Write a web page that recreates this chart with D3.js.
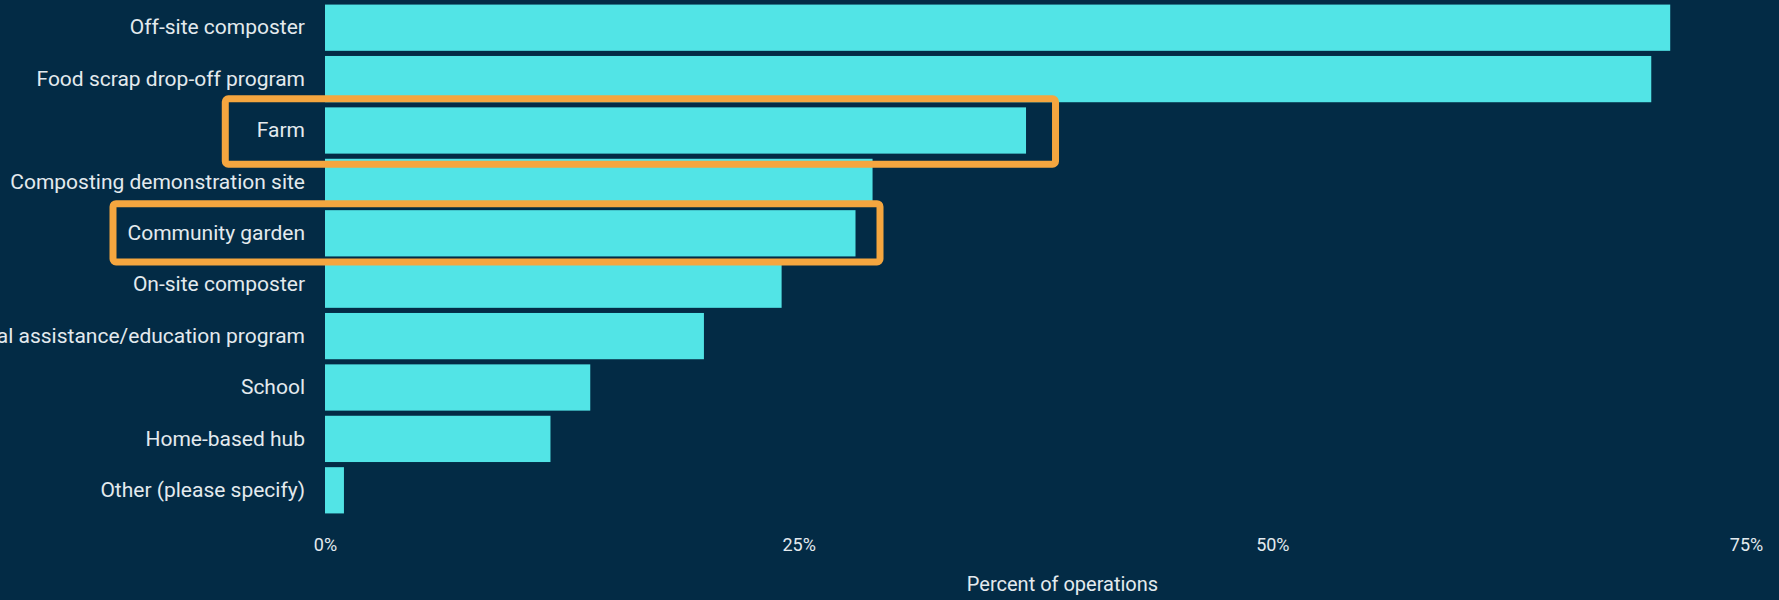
<!DOCTYPE html>
<html>
<head>
<meta charset="utf-8">
<script src="https://cdn.jsdelivr.net/npm/d3@7"></script>
<style>
  html, body { margin: 0; padding: 0; background: #032b45; overflow: hidden; }
  svg { display: block; }
  .tick text { fill: #e3eaee; font-family: Roboto, "DejaVu Sans", sans-serif; }
</style>
</head>
<body>
<div id="chart"></div>
<script>
var svgWidth = 1779;
var svgHeight = 600;

// survey answers, largest first
var categories = [
    "Off-site composter",
    "Food scrap drop-off program",
    "Farm",
    "Composting demonstration site",
    "Community garden",
    "On-site composter",
    "Technical assistance/education program",
    "School",
    "Home-based hub",
    "Other (please specify)"
];
var percents = [71, 70, 37, 28.9, 28, 24.1, 20, 14, 11.9, 1];
var tickValues = [0, 25, 50, 75];
var highlighted = ["Farm", "Community garden"];

var margin = { top: 2, right: 33, bottom: 84, left: 325 };
var plotRight = 1800; // the plot runs on past the right edge

var data = categories.map((c, i) => ({ name: c, value: percents[i] }));

var svg = d3.select("#chart").append("svg")
    .attr("width", svgWidth).attr("height", svgHeight);

svg.append("rect").attr("width", svgWidth).attr("height", svgHeight).attr("fill", "#032b45");

var xScale = d3.scaleLinear()
    .domain([0, 75])
    .range([margin.left, svgWidth - margin.right]);

var yScale = d3.scaleBand()
    .domain(categories)
    .range([margin.top, svgHeight - margin.bottom])
    .paddingInner(0.1)
    .paddingOuter(0.05);

svg.selectAll(".bar")
    .data(data).enter().append("rect")
    .attr("class", "bar")
    .attr("x", xScale(0))
    .attr("y", d => yScale(d.name))
    .attr("width", d => xScale(d.value) - xScale(0))
    .attr("height", yScale.bandwidth())
    .attr("fill", "#52e4e6");

var leftAxis = d3.axisLeft(yScale).tickSize(0).tickPadding(20);
var yAxis = svg.append("g")
    .attr("transform", `translate(${xScale(0)}, 0)`)
    .call(leftAxis);
yAxis.select(".domain").remove();
yAxis.selectAll("text").attr("font-size", 21);

var bottomAxis = d3.axisBottom(xScale)
    .tickValues(tickValues)
    .tickFormat(d => d + "%")
    .tickSize(0).tickPadding(0);
var xAxis = svg.append("g")
    .attr("transform", `translate(0, 538)`)
    .call(bottomAxis);
xAxis.select(".domain").remove();
xAxis.selectAll("text").attr("font-size", 18);

svg.append("text")
    .attr("x", (margin.left + plotRight) / 2)
    .attr("y", 591)
    .attr("text-anchor", "middle")
    .attr("fill", "#e3eaee")
    .attr("font-family", "Roboto, sans-serif")
    .attr("font-size", 20)
    .text("Percent of operations");

// orange call-out frames round the two rows of interest
var boxPad = {
    "Farm": { left: 35, right: 33, top: 12, bottom: 14 },
    "Community garden": { left: 18, right: 28, top: 10, bottom: 9 }
};
yAxis.selectAll(".tick").each(function(d) {
    if (highlighted.indexOf(d) < 0) return;
    var label = d3.select(this).select("text").node().getBBox();
    var p = boxPad[d];
    var row = data.find(r => r.name === d);
    var x0 = xScale(0) + label.x - p.left;
    var x1 = xScale(row.value) + p.right;
    var y0 = yScale(d) - p.top;
    var y1 = yScale(d) + yScale.bandwidth() + p.bottom;
    svg.append("rect")
        .attr("x", x0 + 3.5).attr("y", y0 + 3.5)
        .attr("width", x1 - x0 - 7).attr("height", y1 - y0 - 7)
        .attr("rx", 3)
        .attr("fill", "none")
        .attr("stroke", "#f5a63f")
        .attr("stroke-width", 7);
});
</script>
</body>
</html>
